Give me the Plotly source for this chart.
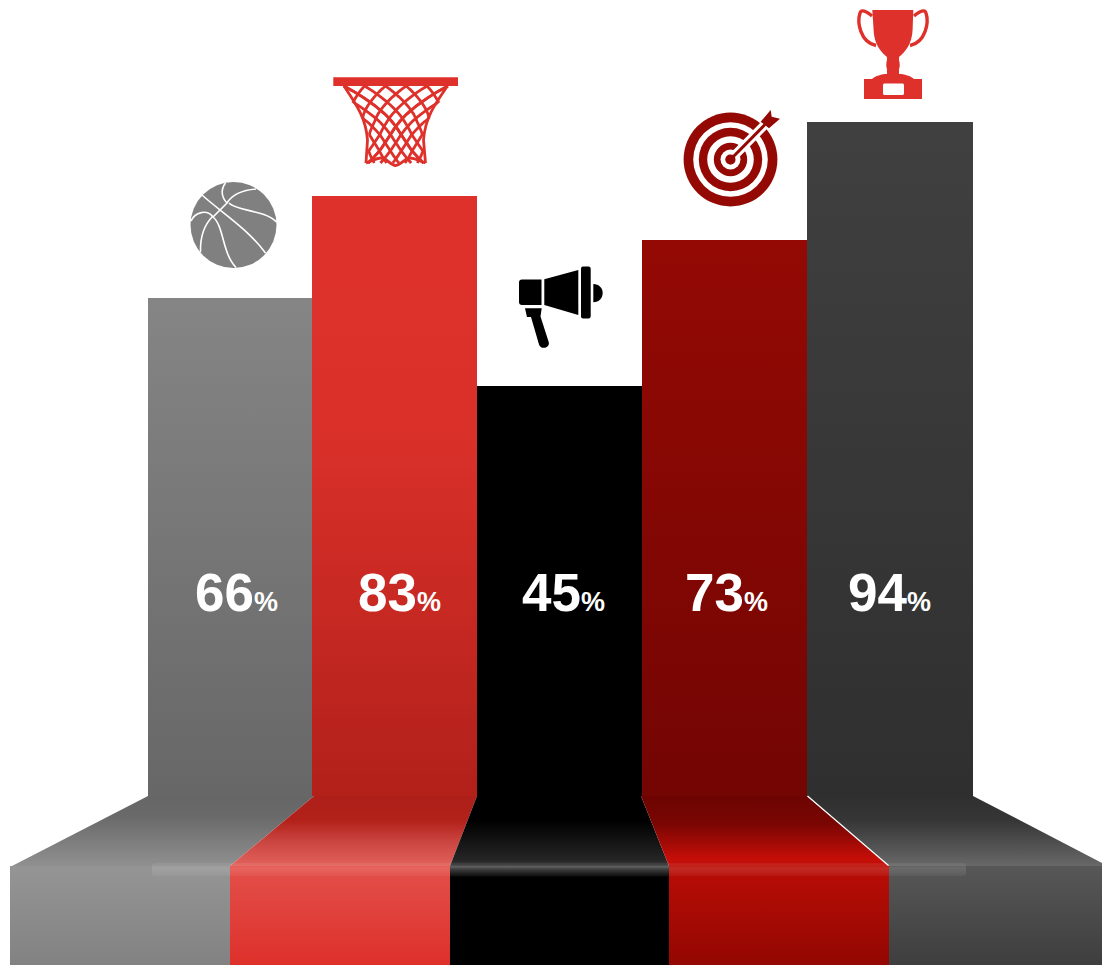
import json
import re

import numpy as np
import plotly.graph_objects as go

# ---- chart values -------------------------------------------------------
categories = ["Basketball", "Net", "Megaphone", "Target", "Trophy"]
percent_values = [66, 83, 45, 73, 94]
plinth_heights = [3.46, 0.68, 12.18, 4.55, 0.0]

FONT = "Liberation Sans"
W, H = 1102, 965
FLOOR_PX = 796
PX_PER_PERCENT = 7.17
STEP_PX = 164.95
ZERO_X_PX = 230.0

RED = "#df312b"
DARK_RED = "#940904"
GREY = "#808080"


def px_path(path):
    """Convert an absolute M/L/C/Q/Z path in page pixels to paper coordinates."""
    tokens = re.findall(r"[MLCQZ]|-?\d+\.?\d*", path)
    out, is_x = [], True
    for tok in tokens:
        if tok in "MLCQZ":
            out.append(tok)
            is_x = True
        else:
            val = float(tok)
            out.append(f"{val / W:.5f}" if is_x else f"{1 - val / H:.5f}")
            is_x = not is_x
    text = ""
    for tok in out:
        text += tok if tok in "MLCQZ" else (tok + ("," if not text.endswith(",") and text[-1] in "MLCQZ " else " "))
    return text


def polygon(points):
    body = " ".join(f"{'M' if i == 0 else 'L'}{x} {y}" for i, (x, y) in enumerate(points))
    return body + " Z"


shapes = []
gradient_for_shape = {}


def add_path(path, fill=None, stroke=None, width=0, gradient=None, opacity=1):
    shape = dict(type="path", xref="paper", yref="paper", layer="above", path=px_path(path),
                 fillcolor=fill or "rgba(0,0,0,0)", opacity=opacity,
                 line=dict(color=stroke or "rgba(0,0,0,0)", width=width))
    shapes.append(shape)
    if gradient:
        gradient_for_shape[len(shapes) - 1] = gradient


def add_circle(cx, cy, r, fill):
    shapes.append(dict(type="circle", xref="paper", yref="paper", layer="above",
                       x0=(cx - r) / W, x1=(cx + r) / W, y0=1 - (cy + r) / H, y1=1 - (cy - r) / H,
                       fillcolor=fill, line=dict(width=0)))


# ---- colour ramps: (top px, bottom px, [(offset, colour, alpha), ...]) --------
gradients = {
    "col0": (298, FLOOR_PX, [(0, "#858585", 1), (1, "#676767", 1)]),
    "col1": (196, FLOOR_PX, [(0, "#df312b", 1), (0.4, "#da302a", 1), (1, "#b2201a", 1)]),
    "col2": (386, FLOOR_PX, [(0, "#000000", 1), (1, "#000000", 1)]),
    "col3": (240, FLOOR_PX, [(0, "#940904", 1), (1, "#730503", 1)]),
    "col4": (122, FLOOR_PX, [(0, "#404040", 1), (1, "#2f2f2f", 1)]),
    "deck0": (796, 866, [(0, "#666666", 1), (0.3, "#6a6a6a", 1), (1, "#909090", 1)]),
    "deck1": (796, 866, [(0, "#ae1f19", 1), (0.35, "#b2211a", 1), (0.65, "#cb4540", 1), (1, "#e2625c", 1)]),
    "deck2": (796, 866, [(0, "#000000", 1), (0.35, "#000000", 1), (1, "#2b2b2b", 1)]),
    "deck3": (796, 866, [(0, "#6c0401", 1), (0.4, "#7a0603", 1), (0.9, "#c60e08", 1), (1, "#c0100a", 1)]),
    "deck4": (796, 866, [(0, "#2f2f2f", 1), (0.35, "#363636", 1), (1, "#686868", 1)]),
    "front0": (866, 965, [(0, "#959595", 1), (1, "#828282", 1)]),
    "front1": (866, 965, [(0, "#e3504a", 1), (1, "#de302b", 1)]),
    "front2": (866, 965, [(0, "#000000", 1), (1, "#000000", 1)]),
    "front3": (866, 965, [(0, "#ba0d06", 1), (1, "#930702", 1)]),
    "front4": (866, 965, [(0, "#575757", 1), (1, "#3e3e3e", 1)]),
    "glass": (862, 877, [(0, "#ffffff", 0.05), (0.3, "#ffffff", 0.08), (0.4, "#ffffff", 0.12),
                         (0.7, "#ffffff", 0.08), (1, "#ffffff", 0.03)]),
    "sheen": (860, 878, [(0, "#ffffff", 0.0), (0.3, "#ffffff", 0.06), (0.36, "#ffffff", 0.32),
                         (0.5, "#ffffff", 0.16), (0.75, "#ffffff", 0.06), (1, "#ffffff", 0.0)]),
}

# ---- floor: sloping deck and front face under each column ---------------------
deck_outlines = [
    [(148, 796), (314, 796), (230, 866), (12, 866)],
    [(314, 796), (477, 796), (450, 866), (230, 866)],
    [(477, 796), (641, 796), (669, 866), (450, 866)],
    [(641, 796), (807, 796), (889, 866), (669, 866)],
    [(807, 796), (973, 796), (1102, 863), (1102, 866), (889, 866)],
]
front_edges = [10, 230, 450, 669, 889, 1102]

for i, outline in enumerate(deck_outlines):
    add_path(polygon(outline), fill="#888888", gradient=f"deck{i}")
for i in range(5):
    l, r = front_edges[i], front_edges[i + 1]
    add_path(polygon([(l, 866), (r, 866), (r, 965), (l, 965)]), fill="#888888", gradient=f"front{i}")
add_path("M807.5 796 L888.5 865.5", stroke="#ffffff", width=1.2)
add_path("M156 863 L962 863 C965 863 966 864 966 866 L966 873 C966 875 965 876 962 876 "
         "L156 876 C153 876 152 875 152 873 L152 866 C152 864 153 863 156 863 Z",
         fill="#ffffff", gradient="glass")
add_path(polygon([(450, 860), (669, 860), (669, 878), (450, 878)]), fill="#ffffff", gradient="sheen")

# ---- basketball ----------------------------------------------------------------
add_circle(233.5, 225, 43, GREY)
for seam in [
    "M202 195 C222 213 247 228 265.5 253",
    "M225.5 183 C220 190 222 198 227 203",
    "M213 217 L227 203 C233 193 244 190 256 189",
    "M229 203 C236 211 265 210 276.5 222",
    "M191 221 C195 212 207 209 213 217",
    "M213 216 C204 225 200 236 200.5 252",
    "M213 217 C224 226 222 253 236 267.5",
]:
    add_path(seam, stroke="#ffffff", width=1.6)

# ---- basketball net ---------------------------------------------------------------
NET_CX = 395.8
net_y = np.linspace(86, 163, 40)
net_half = np.interp(net_y, [86, 98, 110, 122, 135, 150, 163], [52, 45, 38.5, 31, 26.5, 27, 30.8])


def net_strand(u0, direction):
    phase = u0 + direction * 1.9 * (net_y - 86) / 77
    folded = np.abs(((phase + 1) % 4) - 2) - 1
    xs = NET_CX + net_half * folded
    return "M" + " L".join(f"{x:.1f} {y:.1f}" for x, y in zip(xs, net_y))


add_path(polygon([(333.3, 77.3), (458, 77.3), (458, 86), (333.3, 86)]), fill=RED)
for u in (-1, -0.6, -0.2, 0.2, 0.6, 1):
    add_path(net_strand(u, 1), stroke=RED, width=2.8)
    add_path(net_strand(u, -1), stroke=RED, width=2.8)
add_path("M344 86 C356 104 366 118 367.5 140 L366 163", stroke=RED, width=2.8)
add_path("M447.5 86 C435 104 425 118 423.5 140 L425.5 163", stroke=RED, width=2.8)
add_path("M366 163 C372 161 376 158 381 158 C387 158 390 165 395.5 165.5 "
         "C401 165 405 158 410 158 C415 158 419 161 425.5 163", stroke=RED, width=2.8)

# ---- megaphone --------------------------------------------------------------------
add_path("M522 279.5 L541.5 279.5 L541.5 305 L522 305 C520 305 519 304 519 302 L519 282.5 C519 280.5 520 279.5 522 279.5 Z",
         fill="#000000")
add_path(polygon([(544.3, 279.3), (578.3, 270), (578.3, 315), (544.3, 305)]), fill="#000000")
add_path("M583 266.5 L588.5 266.5 C590 266.5 590.7 267.5 590.7 269 L590.7 316 C590.7 317.5 590 318.5 588.5 318.5 "
         "L583 318.5 C581.5 318.5 581 317.5 581 316 L581 269 C581 267.5 581.5 266.5 583 266.5 Z", fill="#000000")
add_path("M593.3 284 C599 284 602.7 288 602.7 293 C602.7 298 599 302.3 593.3 302.3 Z", fill="#000000")
add_path("M525 308.3 L541.7 308.3 L540.5 316.5 L548.7 342 C549.5 345 547.5 347 545 347.7 C542.5 348.2 540 347.5 539 344.5 "
         "L531 317 L527 317 Z", fill="#000000")

# ---- target and arrow -----------------------------------------------------------------
TARGET_X, TARGET_Y = 730.5, 159.5
for radius, colour in [(46.9, DARK_RED), (37.3, "#ffffff"), (31.7, DARK_RED), (23.3, "#ffffff"),
                       (16.7, DARK_RED), (10, "#ffffff"), (5, DARK_RED)]:
    add_circle(TARGET_X, TARGET_Y, radius, colour)
add_path("M730.5 159.5 L767 122.5", stroke="#ffffff", width=9)
add_circle(TARGET_X, TARGET_Y, 5, DARK_RED)
add_path("M730.5 159.5 L765 124.5", stroke=DARK_RED, width=3)
add_path(polygon([(760.7, 121.7), (770.7, 110), (771.7, 116.7), (780, 118.7), (769, 128.3)]), fill=DARK_RED)

# ---- trophy -----------------------------------------------------------------------
add_path("M872 16 C866 11 861 9 860 13 C857 22 860 42 876 45.5", stroke=RED, width=3.4)
add_path("M914 16 C920 11 925 9 926 13 C929 22 926 42 910 45.5", stroke=RED, width=3.4)
add_path("M872.3 10 L913.3 10 L912.6 30 C912 44 905 52 899 57 L899 60 C900 63 900 67 899 69 L899 74 L887 74 L887 69 "
         "C886 67 886 63 887 60 L887 57 C881 52 874 44 873.6 30 Z", fill=RED)
add_path("M864 99 L864 79 L872 79 C875 76 882 74 887 74 L899 74 C904 74 911 76 914 79 L922 79 L922 99 Z", fill=RED)
add_path("M885 83.5 L902 83.5 C903.5 83.5 904 84 904 85.5 L904 93 C904 94.5 903.5 95 902 95 L885 95 "
         "C883.5 95 883 94.5 883 93 L883 85.5 C883 84 883.5 83.5 885 83.5 Z", fill="#ffffff")

# ---- columns ------------------------------------------------------------------------
positions = list(range(len(categories)))
column_widths = [1, 1, 1, 1, 1.006]
fig = go.Figure()
fig.add_bar(x=positions, y=plinth_heights, width=column_widths, marker=dict(color="#888888", line=dict(width=0)),
            hoverinfo="skip", name="plinth")
fig.add_bar(x=positions, y=percent_values, width=column_widths, marker=dict(color="#888888", line=dict(width=0)),
            customdata=categories, name="percent")

label_shift = [6, 4.75, 4, 1.5, -0.5]
label_y = 28.42
annotations = [
    dict(x=pos, y=label_y, xref="x", yref="y", xshift=shift, showarrow=False,
         text=f'<b>{val}<span style="font-size:27px">%</span></b>',
         font=dict(family=FONT, size=53, color="#ffffff"))
    for pos, val, shift in zip(positions, percent_values, label_shift)
]

fig.update_layout(
    width=W, height=H, autosize=False, margin=dict(l=0, r=0, t=0, b=0),
    paper_bgcolor="#ffffff", plot_bgcolor="#ffffff", showlegend=False, barmode="stack", bargap=0,
    xaxis=dict(range=[-ZERO_X_PX / STEP_PX, (W - ZERO_X_PX) / STEP_PX], visible=False),
    yaxis=dict(range=[-(H - FLOOR_PX) / PX_PER_PERCENT, FLOOR_PX / PX_PER_PERCENT], visible=False),
    shapes=shapes, annotations=annotations, font=dict(family=FONT),
)

# SVG gradients are attached once the plot has been drawn
paint_script = """
var gd = document.querySelector('.js-plotly-plot');
var svg = gd.querySelector('svg.main-svg');
var ns = 'http://www.w3.org/2000/svg';
var defs = document.createElementNS(ns, 'defs');
var ramps = %s;
Object.keys(ramps).forEach(function (key) {
  var r = ramps[key];
  var g = document.createElementNS(ns, 'linearGradient');
  g.setAttribute('id', 'ramp-' + key);
  g.setAttribute('gradientUnits', 'userSpaceOnUse');
  g.setAttribute('x1', 0); g.setAttribute('x2', 0);
  g.setAttribute('y1', r[0]); g.setAttribute('y2', r[1]);
  r[2].forEach(function (s) {
    var stop = document.createElementNS(ns, 'stop');
    stop.setAttribute('offset', s[0]);
    stop.setAttribute('stop-color', s[1]);
    stop.setAttribute('stop-opacity', s[2]);
    g.appendChild(stop);
  });
  defs.appendChild(g);
});
svg.insertBefore(defs, svg.firstChild);
gd.querySelectorAll('.barlayer .trace').forEach(function (trace) {
  trace.querySelectorAll('.point path').forEach(function (p, i) {
    p.style.fill = 'url(#ramp-col' + i + ')';
  });
});
var map = %s;
Object.keys(map).forEach(function (idx) {
  var el = gd.querySelector('.layer-above .shapelayer path[data-index="' + idx + '"]');
  if (el) { el.style.fill = 'url(#ramp-' + map[idx] + ')'; el.style.fillOpacity = 1; }
});
""" % (json.dumps(gradients), json.dumps(gradient_for_shape))

fig.write_html("out.html", post_script=paint_script, config=dict(displayModeBar=False))
